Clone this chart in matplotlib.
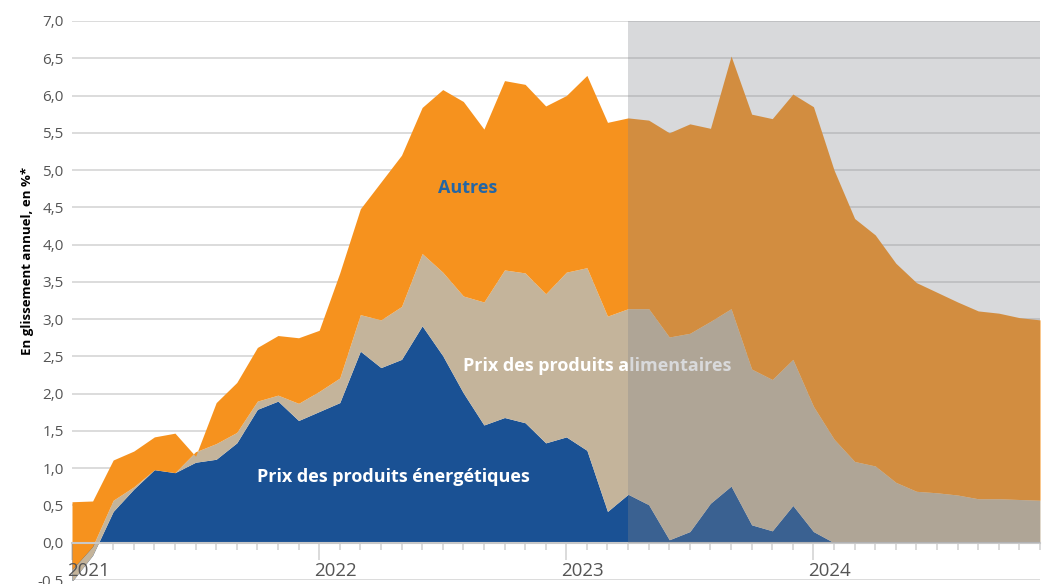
import numpy as np
import matplotlib
matplotlib.use('Agg')
import matplotlib.pyplot as plt

plt.rcParams['font.family'] = ['Open Sans', 'DejaVu Sans']

# mois de janvier 2021 a decembre 2024, contributions en points de %
months = ['2021-%02d' % m for m in range(1, 13)] + ['2022-%02d' % m for m in range(1, 13)] \
    + ['2023-%02d' % m for m in range(1, 13)] + ['2024-%02d' % m for m in range(1, 13)]

energie = [-0.52, -0.17, 0.42, 0.72, 0.98, 0.94, 1.08, 1.12, 1.34, 1.79, 1.90, 1.64,
           1.76, 1.88, 2.57, 2.35, 2.46, 2.91, 2.51, 2.01, 1.58, 1.68, 1.61, 1.34,
           1.42, 1.24, 0.42, 0.65, 0.51, 0.04, 0.15, 0.53, 0.76, 0.24, 0.16, 0.50,
           0.15, 0.00, 0.00, 0.00, 0.00, 0.00, 0.00, 0.00, 0.00, 0.00, 0.00, 0.00]
alimentaire = [0.16, 0.12, 0.15, 0.03, 0.00, 0.00, 0.14, 0.21, 0.14, 0.11, 0.08, 0.23,
               0.27, 0.33, 0.49, 0.64, 0.71, 0.97, 1.12, 1.30, 1.65, 1.98, 2.01, 2.00,
               2.21, 2.45, 2.62, 2.49, 2.63, 2.72, 2.66, 2.44, 2.38, 2.09, 2.03, 1.96,
               1.68, 1.39, 1.09, 1.03, 0.81, 0.69, 0.67, 0.64, 0.59, 0.59, 0.58, 0.57]
autres = [0.91, 0.61, 0.54, 0.48, 0.44, 0.53, -0.06, 0.55, 0.67, 0.72, 0.80, 0.88,
          0.82, 1.41, 1.42, 1.85, 2.03, 1.96, 2.45, 2.61, 2.32, 2.54, 2.53, 2.52,
          2.37, 2.58, 2.60, 2.56, 2.53, 2.74, 2.81, 2.59, 3.39, 3.42, 3.50, 3.56,
          4.02, 3.61, 3.26, 3.10, 2.94, 2.80, 2.69, 2.59, 2.52, 2.49, 2.44, 2.42]

years = ['2021', '2022', '2023', '2024']
debut_prevision = months.index('2023-04')

x = np.arange(len(months))
e = np.array(energie)
ea = e + np.array(alimentaire)
tot = ea + np.array(autres)

fig = plt.figure(figsize=(10.43, 5.84), dpi=100)
ax = fig.add_axes([72/1043, 4/584, (1040-72)/1043, (580-21)/584])

ax.fill_between(x, 0, e, color='#1a5194', lw=0, zorder=2)
ax.fill_between(x, e, ea, color='#c4b49b', lw=0, zorder=2)
ax.fill_between(x, ea, tot, color='#f6921e', lw=0, zorder=2)

# zone de prevision
ax.fill_between([debut_prevision, x[-1]], 0, 7.0, color='#83858c', alpha=0.31, lw=0, zorder=4)

ax.set_xlim(0, x[-1])
ax.set_ylim(-0.5, 7.0)
yt = np.arange(-0.5, 7.01, 0.5)
ax.set_yticks(yt)
ax.set_yticklabels([('%.1f' % v).replace('.', ',') for v in yt], color='#555555', fontsize=11)
ax.tick_params(axis='y', length=0, pad=6)
ax.grid(axis='y', color='#d9d9d9', lw=1.3, zorder=0)
ax.set_axisbelow(True)

for s in ['top', 'right', 'left']:
    ax.spines[s].set_visible(False)
ax.spines['bottom'].set_position(('data', 0))
ax.spines['bottom'].set_color('#c8c8c8')
ax.spines['bottom'].set_linewidth(1.5)
ax.spines['bottom'].set_zorder(3)
ax.set_xticks(x[::12])
ax.set_xticks(x, minor=True)
ax.set_xticklabels([])
ax.tick_params(axis='x', which='major', length=12, width=1.2, color='#d4d4d4')
ax.tick_params(axis='x', which='minor', length=5, width=1.2, color='#d4d4d4')

for i, yr in enumerate(years):
    ax.text(i * 12 - 0.25, -0.38, yr, ha='left', va='center', fontsize=13.5, color='#555555')

ax.text(19.2, 4.76, 'Autres', ha='center', va='center', fontsize=13,
        fontweight='bold', color='#2466a5', zorder=3)
ax.text(25.5, 2.37, 'Prix des produits alimentaires', ha='center', va='center',
        fontsize=13, fontweight='bold', color='white', zorder=3)
ax.text(15.6, 0.88, 'Prix des produits énergétiques', ha='center', va='center',
        fontsize=13, fontweight='bold', color='white', zorder=3)

fig.text(28/1043, 1 - 261/584, 'En glissement annuel, en %*', rotation=90,
         ha='center', va='center', fontsize=9.5, fontweight='bold', color='black')

fig.savefig('out.png', dpi=100)
